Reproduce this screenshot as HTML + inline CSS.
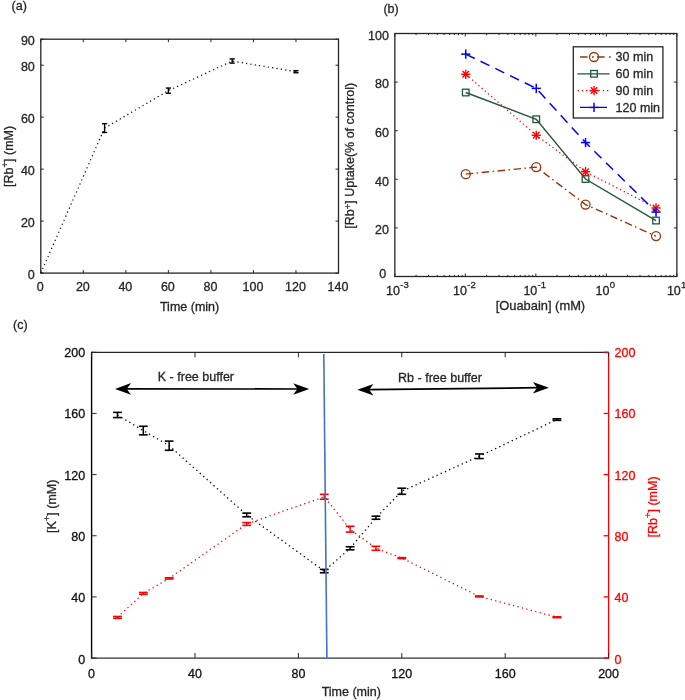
<!DOCTYPE html>
<html><head><meta charset="utf-8"><style>
html,body{margin:0;padding:0;background:#fff;}
svg{display:block;will-change:transform;}
text{font-family:"Liberation Sans", sans-serif;}
</style></head><body>
<svg width="685" height="700" viewBox="0 0 685 700">
<rect width="685" height="700" fill="#fff"/>
<rect x="40.8" y="39.2" width="297.7" height="233.90000000000003" fill="none" stroke="#262626" stroke-width="1.3"/>
<line x1="40.80" y1="273.10" x2="40.80" y2="270.10" stroke="#262626" stroke-width="1" />
<line x1="40.80" y1="39.20" x2="40.80" y2="42.20" stroke="#262626" stroke-width="1" />
<text x="40.30" y="291.40" text-anchor="middle" font-size="12.5" fill="#262626" stroke="#262626" stroke-width="0.3" >0</text>
<line x1="83.33" y1="273.10" x2="83.33" y2="270.10" stroke="#262626" stroke-width="1" />
<line x1="83.33" y1="39.20" x2="83.33" y2="42.20" stroke="#262626" stroke-width="1" />
<text x="82.83" y="291.40" text-anchor="middle" font-size="12.5" fill="#262626" stroke="#262626" stroke-width="0.3" >20</text>
<line x1="125.86" y1="273.10" x2="125.86" y2="270.10" stroke="#262626" stroke-width="1" />
<line x1="125.86" y1="39.20" x2="125.86" y2="42.20" stroke="#262626" stroke-width="1" />
<text x="125.36" y="291.40" text-anchor="middle" font-size="12.5" fill="#262626" stroke="#262626" stroke-width="0.3" >40</text>
<line x1="168.39" y1="273.10" x2="168.39" y2="270.10" stroke="#262626" stroke-width="1" />
<line x1="168.39" y1="39.20" x2="168.39" y2="42.20" stroke="#262626" stroke-width="1" />
<text x="167.89" y="291.40" text-anchor="middle" font-size="12.5" fill="#262626" stroke="#262626" stroke-width="0.3" >60</text>
<line x1="210.91" y1="273.10" x2="210.91" y2="270.10" stroke="#262626" stroke-width="1" />
<line x1="210.91" y1="39.20" x2="210.91" y2="42.20" stroke="#262626" stroke-width="1" />
<text x="210.41" y="291.40" text-anchor="middle" font-size="12.5" fill="#262626" stroke="#262626" stroke-width="0.3" >80</text>
<line x1="253.44" y1="273.10" x2="253.44" y2="270.10" stroke="#262626" stroke-width="1" />
<line x1="253.44" y1="39.20" x2="253.44" y2="42.20" stroke="#262626" stroke-width="1" />
<text x="252.94" y="291.40" text-anchor="middle" font-size="12.5" fill="#262626" stroke="#262626" stroke-width="0.3" >100</text>
<line x1="295.97" y1="273.10" x2="295.97" y2="270.10" stroke="#262626" stroke-width="1" />
<line x1="295.97" y1="39.20" x2="295.97" y2="42.20" stroke="#262626" stroke-width="1" />
<text x="295.47" y="291.40" text-anchor="middle" font-size="12.5" fill="#262626" stroke="#262626" stroke-width="0.3" >120</text>
<line x1="338.50" y1="273.10" x2="338.50" y2="270.10" stroke="#262626" stroke-width="1" />
<line x1="338.50" y1="39.20" x2="338.50" y2="42.20" stroke="#262626" stroke-width="1" />
<text x="338.00" y="291.40" text-anchor="middle" font-size="12.5" fill="#262626" stroke="#262626" stroke-width="0.3" >140</text>
<line x1="40.80" y1="273.10" x2="43.80" y2="273.10" stroke="#262626" stroke-width="1" />
<line x1="338.50" y1="273.10" x2="335.50" y2="273.10" stroke="#262626" stroke-width="1" />
<text x="34.80" y="278.70" text-anchor="end" font-size="12.5" fill="#262626" stroke="#262626" stroke-width="0.3" >0</text>
<line x1="40.80" y1="221.12" x2="43.80" y2="221.12" stroke="#262626" stroke-width="1" />
<line x1="338.50" y1="221.12" x2="335.50" y2="221.12" stroke="#262626" stroke-width="1" />
<text x="34.80" y="226.72" text-anchor="end" font-size="12.5" fill="#262626" stroke="#262626" stroke-width="0.3" >20</text>
<line x1="40.80" y1="169.14" x2="43.80" y2="169.14" stroke="#262626" stroke-width="1" />
<line x1="338.50" y1="169.14" x2="335.50" y2="169.14" stroke="#262626" stroke-width="1" />
<text x="34.80" y="174.74" text-anchor="end" font-size="12.5" fill="#262626" stroke="#262626" stroke-width="0.3" >40</text>
<line x1="40.80" y1="117.17" x2="43.80" y2="117.17" stroke="#262626" stroke-width="1" />
<line x1="338.50" y1="117.17" x2="335.50" y2="117.17" stroke="#262626" stroke-width="1" />
<text x="34.80" y="122.77" text-anchor="end" font-size="12.5" fill="#262626" stroke="#262626" stroke-width="0.3" >60</text>
<line x1="40.80" y1="65.19" x2="43.80" y2="65.19" stroke="#262626" stroke-width="1" />
<line x1="338.50" y1="65.19" x2="335.50" y2="65.19" stroke="#262626" stroke-width="1" />
<text x="34.80" y="70.79" text-anchor="end" font-size="12.5" fill="#262626" stroke="#262626" stroke-width="0.3" >80</text>
<line x1="40.80" y1="39.20" x2="43.80" y2="39.20" stroke="#262626" stroke-width="1" />
<line x1="338.50" y1="39.20" x2="335.50" y2="39.20" stroke="#262626" stroke-width="1" />
<text x="34.80" y="44.80" text-anchor="end" font-size="12.5" fill="#262626" stroke="#262626" stroke-width="0.3" >90</text>
<text x="189.60" y="310.80" text-anchor="middle" font-size="12.5" fill="#262626" stroke="#262626" stroke-width="0.3" >Time (min)</text>
<text transform="translate(13.40,156.40) rotate(-90)" text-anchor="middle" font-size="12.5" fill="#262626" stroke="#262626" stroke-width="0.3">[Rb<tspan dy="-5.5" font-size="9.5">+</tspan><tspan dy="5.5">] (mM)</tspan></text>
<text x="11.60" y="10.00" text-anchor="start" font-size="12.5" fill="#262626" stroke="#262626" stroke-width="0.3" >(a)</text>
<polyline points="40.80,273.10 104.59,128.08 168.39,90.66 232.18,61.03 295.97,71.69" fill="none" stroke="#000" stroke-width="1.2" stroke-dasharray="1.2 3.2"/>
<line x1="104.59" y1="123.66" x2="104.59" y2="132.50" stroke="#000" stroke-width="1.4" />
<line x1="101.99" y1="123.66" x2="107.19" y2="123.66" stroke="#000" stroke-width="1.4" />
<line x1="101.99" y1="132.50" x2="107.19" y2="132.50" stroke="#000" stroke-width="1.4" />
<line x1="168.39" y1="88.06" x2="168.39" y2="93.26" stroke="#000" stroke-width="1.4" />
<line x1="165.79" y1="88.06" x2="170.99" y2="88.06" stroke="#000" stroke-width="1.4" />
<line x1="165.79" y1="93.26" x2="170.99" y2="93.26" stroke="#000" stroke-width="1.4" />
<line x1="232.18" y1="58.95" x2="232.18" y2="63.11" stroke="#000" stroke-width="1.4" />
<line x1="229.58" y1="58.95" x2="234.78" y2="58.95" stroke="#000" stroke-width="1.4" />
<line x1="229.58" y1="63.11" x2="234.78" y2="63.11" stroke="#000" stroke-width="1.4" />
<line x1="295.97" y1="70.65" x2="295.97" y2="72.73" stroke="#000" stroke-width="1.4" />
<line x1="293.37" y1="70.65" x2="298.57" y2="70.65" stroke="#000" stroke-width="1.4" />
<line x1="293.37" y1="72.73" x2="298.57" y2="72.73" stroke="#000" stroke-width="1.4" />
<rect x="394.85" y="33.5" width="282.0" height="243.0" fill="none" stroke="#262626" stroke-width="1.3"/>
<line x1="394.85" y1="276.50" x2="394.85" y2="273.50" stroke="#262626" stroke-width="1" />
<line x1="394.85" y1="33.50" x2="394.85" y2="36.50" stroke="#262626" stroke-width="1" />
<text x="400.00" y="295.00" text-anchor="end" font-size="12.5" fill="#262626" stroke="#262626" stroke-width="0.3" >10</text>
<text x="400.30" y="287.90" text-anchor="start" font-size="9.5" fill="#262626" stroke="#262626" stroke-width="0.3" >-3</text>
<line x1="416.07" y1="276.50" x2="416.07" y2="274.90" stroke="#262626" stroke-width="1" />
<line x1="416.07" y1="33.50" x2="416.07" y2="35.10" stroke="#262626" stroke-width="1" />
<line x1="428.49" y1="276.50" x2="428.49" y2="274.90" stroke="#262626" stroke-width="1" />
<line x1="428.49" y1="33.50" x2="428.49" y2="35.10" stroke="#262626" stroke-width="1" />
<line x1="437.30" y1="276.50" x2="437.30" y2="274.90" stroke="#262626" stroke-width="1" />
<line x1="437.30" y1="33.50" x2="437.30" y2="35.10" stroke="#262626" stroke-width="1" />
<line x1="444.13" y1="276.50" x2="444.13" y2="274.90" stroke="#262626" stroke-width="1" />
<line x1="444.13" y1="33.50" x2="444.13" y2="35.10" stroke="#262626" stroke-width="1" />
<line x1="449.71" y1="276.50" x2="449.71" y2="274.90" stroke="#262626" stroke-width="1" />
<line x1="449.71" y1="33.50" x2="449.71" y2="35.10" stroke="#262626" stroke-width="1" />
<line x1="454.43" y1="276.50" x2="454.43" y2="274.90" stroke="#262626" stroke-width="1" />
<line x1="454.43" y1="33.50" x2="454.43" y2="35.10" stroke="#262626" stroke-width="1" />
<line x1="458.52" y1="276.50" x2="458.52" y2="274.90" stroke="#262626" stroke-width="1" />
<line x1="458.52" y1="33.50" x2="458.52" y2="35.10" stroke="#262626" stroke-width="1" />
<line x1="462.12" y1="276.50" x2="462.12" y2="274.90" stroke="#262626" stroke-width="1" />
<line x1="462.12" y1="33.50" x2="462.12" y2="35.10" stroke="#262626" stroke-width="1" />
<line x1="465.35" y1="276.50" x2="465.35" y2="273.50" stroke="#262626" stroke-width="1" />
<line x1="465.35" y1="33.50" x2="465.35" y2="36.50" stroke="#262626" stroke-width="1" />
<text x="467.00" y="295.00" text-anchor="end" font-size="12.5" fill="#262626" stroke="#262626" stroke-width="0.3" >10</text>
<text x="467.30" y="287.90" text-anchor="start" font-size="9.5" fill="#262626" stroke="#262626" stroke-width="0.3" >-2</text>
<line x1="486.57" y1="276.50" x2="486.57" y2="274.90" stroke="#262626" stroke-width="1" />
<line x1="486.57" y1="33.50" x2="486.57" y2="35.10" stroke="#262626" stroke-width="1" />
<line x1="498.99" y1="276.50" x2="498.99" y2="274.90" stroke="#262626" stroke-width="1" />
<line x1="498.99" y1="33.50" x2="498.99" y2="35.10" stroke="#262626" stroke-width="1" />
<line x1="507.80" y1="276.50" x2="507.80" y2="274.90" stroke="#262626" stroke-width="1" />
<line x1="507.80" y1="33.50" x2="507.80" y2="35.10" stroke="#262626" stroke-width="1" />
<line x1="514.63" y1="276.50" x2="514.63" y2="274.90" stroke="#262626" stroke-width="1" />
<line x1="514.63" y1="33.50" x2="514.63" y2="35.10" stroke="#262626" stroke-width="1" />
<line x1="520.21" y1="276.50" x2="520.21" y2="274.90" stroke="#262626" stroke-width="1" />
<line x1="520.21" y1="33.50" x2="520.21" y2="35.10" stroke="#262626" stroke-width="1" />
<line x1="524.93" y1="276.50" x2="524.93" y2="274.90" stroke="#262626" stroke-width="1" />
<line x1="524.93" y1="33.50" x2="524.93" y2="35.10" stroke="#262626" stroke-width="1" />
<line x1="529.02" y1="276.50" x2="529.02" y2="274.90" stroke="#262626" stroke-width="1" />
<line x1="529.02" y1="33.50" x2="529.02" y2="35.10" stroke="#262626" stroke-width="1" />
<line x1="532.62" y1="276.50" x2="532.62" y2="274.90" stroke="#262626" stroke-width="1" />
<line x1="532.62" y1="33.50" x2="532.62" y2="35.10" stroke="#262626" stroke-width="1" />
<line x1="535.85" y1="276.50" x2="535.85" y2="273.50" stroke="#262626" stroke-width="1" />
<line x1="535.85" y1="33.50" x2="535.85" y2="36.50" stroke="#262626" stroke-width="1" />
<text x="537.30" y="295.00" text-anchor="end" font-size="12.5" fill="#262626" stroke="#262626" stroke-width="0.3" >10</text>
<text x="537.60" y="287.90" text-anchor="start" font-size="9.5" fill="#262626" stroke="#262626" stroke-width="0.3" >-1</text>
<line x1="557.07" y1="276.50" x2="557.07" y2="274.90" stroke="#262626" stroke-width="1" />
<line x1="557.07" y1="33.50" x2="557.07" y2="35.10" stroke="#262626" stroke-width="1" />
<line x1="569.49" y1="276.50" x2="569.49" y2="274.90" stroke="#262626" stroke-width="1" />
<line x1="569.49" y1="33.50" x2="569.49" y2="35.10" stroke="#262626" stroke-width="1" />
<line x1="578.30" y1="276.50" x2="578.30" y2="274.90" stroke="#262626" stroke-width="1" />
<line x1="578.30" y1="33.50" x2="578.30" y2="35.10" stroke="#262626" stroke-width="1" />
<line x1="585.13" y1="276.50" x2="585.13" y2="274.90" stroke="#262626" stroke-width="1" />
<line x1="585.13" y1="33.50" x2="585.13" y2="35.10" stroke="#262626" stroke-width="1" />
<line x1="590.71" y1="276.50" x2="590.71" y2="274.90" stroke="#262626" stroke-width="1" />
<line x1="590.71" y1="33.50" x2="590.71" y2="35.10" stroke="#262626" stroke-width="1" />
<line x1="595.43" y1="276.50" x2="595.43" y2="274.90" stroke="#262626" stroke-width="1" />
<line x1="595.43" y1="33.50" x2="595.43" y2="35.10" stroke="#262626" stroke-width="1" />
<line x1="599.52" y1="276.50" x2="599.52" y2="274.90" stroke="#262626" stroke-width="1" />
<line x1="599.52" y1="33.50" x2="599.52" y2="35.10" stroke="#262626" stroke-width="1" />
<line x1="603.12" y1="276.50" x2="603.12" y2="274.90" stroke="#262626" stroke-width="1" />
<line x1="603.12" y1="33.50" x2="603.12" y2="35.10" stroke="#262626" stroke-width="1" />
<line x1="606.35" y1="276.50" x2="606.35" y2="273.50" stroke="#262626" stroke-width="1" />
<line x1="606.35" y1="33.50" x2="606.35" y2="36.50" stroke="#262626" stroke-width="1" />
<text x="609.40" y="295.00" text-anchor="end" font-size="12.5" fill="#262626" stroke="#262626" stroke-width="0.3" >10</text>
<text x="609.70" y="287.90" text-anchor="start" font-size="9.5" fill="#262626" stroke="#262626" stroke-width="0.3" >0</text>
<line x1="627.57" y1="276.50" x2="627.57" y2="274.90" stroke="#262626" stroke-width="1" />
<line x1="627.57" y1="33.50" x2="627.57" y2="35.10" stroke="#262626" stroke-width="1" />
<line x1="639.99" y1="276.50" x2="639.99" y2="274.90" stroke="#262626" stroke-width="1" />
<line x1="639.99" y1="33.50" x2="639.99" y2="35.10" stroke="#262626" stroke-width="1" />
<line x1="648.80" y1="276.50" x2="648.80" y2="274.90" stroke="#262626" stroke-width="1" />
<line x1="648.80" y1="33.50" x2="648.80" y2="35.10" stroke="#262626" stroke-width="1" />
<line x1="655.63" y1="276.50" x2="655.63" y2="274.90" stroke="#262626" stroke-width="1" />
<line x1="655.63" y1="33.50" x2="655.63" y2="35.10" stroke="#262626" stroke-width="1" />
<line x1="661.21" y1="276.50" x2="661.21" y2="274.90" stroke="#262626" stroke-width="1" />
<line x1="661.21" y1="33.50" x2="661.21" y2="35.10" stroke="#262626" stroke-width="1" />
<line x1="665.93" y1="276.50" x2="665.93" y2="274.90" stroke="#262626" stroke-width="1" />
<line x1="665.93" y1="33.50" x2="665.93" y2="35.10" stroke="#262626" stroke-width="1" />
<line x1="670.02" y1="276.50" x2="670.02" y2="274.90" stroke="#262626" stroke-width="1" />
<line x1="670.02" y1="33.50" x2="670.02" y2="35.10" stroke="#262626" stroke-width="1" />
<line x1="673.62" y1="276.50" x2="673.62" y2="274.90" stroke="#262626" stroke-width="1" />
<line x1="673.62" y1="33.50" x2="673.62" y2="35.10" stroke="#262626" stroke-width="1" />
<line x1="676.85" y1="276.50" x2="676.85" y2="273.50" stroke="#262626" stroke-width="1" />
<line x1="676.85" y1="33.50" x2="676.85" y2="36.50" stroke="#262626" stroke-width="1" />
<text x="680.80" y="295.00" text-anchor="end" font-size="12.5" fill="#262626" stroke="#262626" stroke-width="0.3" >10</text>
<text x="681.10" y="287.90" text-anchor="start" font-size="9.5" fill="#262626" stroke="#262626" stroke-width="0.3" >1</text>
<line x1="394.85" y1="276.50" x2="397.85" y2="276.50" stroke="#262626" stroke-width="1" />
<line x1="676.85" y1="276.50" x2="673.85" y2="276.50" stroke="#262626" stroke-width="1" />
<text x="386.20" y="278.00" text-anchor="end" font-size="12.5" fill="#262626" stroke="#262626" stroke-width="0.3" >0</text>
<line x1="394.85" y1="227.90" x2="397.85" y2="227.90" stroke="#262626" stroke-width="1" />
<line x1="676.85" y1="227.90" x2="673.85" y2="227.90" stroke="#262626" stroke-width="1" />
<text x="388.85" y="234.10" text-anchor="end" font-size="12.5" fill="#262626" stroke="#262626" stroke-width="0.3" >20</text>
<line x1="394.85" y1="179.30" x2="397.85" y2="179.30" stroke="#262626" stroke-width="1" />
<line x1="676.85" y1="179.30" x2="673.85" y2="179.30" stroke="#262626" stroke-width="1" />
<text x="388.85" y="185.50" text-anchor="end" font-size="12.5" fill="#262626" stroke="#262626" stroke-width="0.3" >40</text>
<line x1="394.85" y1="130.70" x2="397.85" y2="130.70" stroke="#262626" stroke-width="1" />
<line x1="676.85" y1="130.70" x2="673.85" y2="130.70" stroke="#262626" stroke-width="1" />
<text x="388.85" y="136.90" text-anchor="end" font-size="12.5" fill="#262626" stroke="#262626" stroke-width="0.3" >60</text>
<line x1="394.85" y1="82.10" x2="397.85" y2="82.10" stroke="#262626" stroke-width="1" />
<line x1="676.85" y1="82.10" x2="673.85" y2="82.10" stroke="#262626" stroke-width="1" />
<text x="388.85" y="88.30" text-anchor="end" font-size="12.5" fill="#262626" stroke="#262626" stroke-width="0.3" >80</text>
<line x1="394.85" y1="33.50" x2="397.85" y2="33.50" stroke="#262626" stroke-width="1" />
<line x1="676.85" y1="33.50" x2="673.85" y2="33.50" stroke="#262626" stroke-width="1" />
<text x="388.85" y="39.70" text-anchor="end" font-size="12.5" fill="#262626" stroke="#262626" stroke-width="0.3" >100</text>
<text x="540.40" y="310.00" text-anchor="middle" font-size="12.9" fill="#262626" stroke="#262626" stroke-width="0.3" >[Ouabain] (mM)</text>
<text transform="translate(353.90,155.70) rotate(-90)" text-anchor="middle" font-size="12.5" fill="#262626" stroke="#262626" stroke-width="0.3">[Rb<tspan dy="-2.6" font-size="9.5">+</tspan><tspan dy="2.6">] Uptake(% of control)</tspan></text>
<text x="383.40" y="13.00" text-anchor="start" font-size="12.5" fill="#262626" stroke="#262626" stroke-width="0.3" >(b)</text>
<polyline points="465.75,174.15 536.25,167.11 585.53,204.53 656.03,236.12" fill="none" stroke="#953509" stroke-width="1.4" stroke-dasharray="7.5 3.5 1.5 3.5"/>
<circle cx="465.75" cy="174.15" r="4.5" fill="none" stroke="#953509" stroke-width="1.3"/>
<circle cx="536.25" cy="167.11" r="4.5" fill="none" stroke="#953509" stroke-width="1.3"/>
<circle cx="585.53" cy="204.53" r="4.5" fill="none" stroke="#953509" stroke-width="1.3"/>
<circle cx="656.03" cy="236.12" r="4.5" fill="none" stroke="#953509" stroke-width="1.3"/>
<polyline points="465.75,92.51 536.25,119.24 585.53,179.01 656.03,220.57" fill="none" stroke="#22583a" stroke-width="1.45" />
<rect x="462.45" y="89.21" width="6.6" height="6.6" fill="none" stroke="#22583a" stroke-width="1.3"/>
<rect x="532.95" y="115.94" width="6.6" height="6.6" fill="none" stroke="#22583a" stroke-width="1.3"/>
<rect x="582.23" y="175.71" width="6.6" height="6.6" fill="none" stroke="#22583a" stroke-width="1.3"/>
<rect x="652.73" y="217.27" width="6.6" height="6.6" fill="none" stroke="#22583a" stroke-width="1.3"/>
<polyline points="465.75,74.28 536.25,135.27 585.53,171.72 656.03,207.93" fill="none" stroke="#ff0000" stroke-width="1.3" stroke-dasharray="1.3 2.9"/>
<line x1="461.15" y1="74.28" x2="470.35" y2="74.28" stroke="#ff0000" stroke-width="1.4" />
<line x1="462.50" y1="71.03" x2="469.00" y2="77.53" stroke="#ff0000" stroke-width="1.4" />
<line x1="465.75" y1="69.68" x2="465.75" y2="78.88" stroke="#ff0000" stroke-width="1.4" />
<line x1="469.00" y1="71.03" x2="462.50" y2="77.53" stroke="#ff0000" stroke-width="1.4" />
<line x1="531.65" y1="135.27" x2="540.85" y2="135.27" stroke="#ff0000" stroke-width="1.4" />
<line x1="533.00" y1="132.02" x2="539.50" y2="138.53" stroke="#ff0000" stroke-width="1.4" />
<line x1="536.25" y1="130.67" x2="536.25" y2="139.87" stroke="#ff0000" stroke-width="1.4" />
<line x1="539.50" y1="132.02" x2="533.00" y2="138.53" stroke="#ff0000" stroke-width="1.4" />
<line x1="580.93" y1="171.72" x2="590.13" y2="171.72" stroke="#ff0000" stroke-width="1.4" />
<line x1="582.27" y1="168.47" x2="588.78" y2="174.98" stroke="#ff0000" stroke-width="1.4" />
<line x1="585.53" y1="167.12" x2="585.53" y2="176.32" stroke="#ff0000" stroke-width="1.4" />
<line x1="588.78" y1="168.47" x2="582.27" y2="174.98" stroke="#ff0000" stroke-width="1.4" />
<line x1="651.43" y1="207.93" x2="660.63" y2="207.93" stroke="#ff0000" stroke-width="1.4" />
<line x1="652.77" y1="204.68" x2="659.28" y2="211.18" stroke="#ff0000" stroke-width="1.4" />
<line x1="656.03" y1="203.33" x2="656.03" y2="212.53" stroke="#ff0000" stroke-width="1.4" />
<line x1="659.28" y1="204.68" x2="652.77" y2="211.18" stroke="#ff0000" stroke-width="1.4" />
<polyline points="465.75,54.11 536.25,88.38 585.53,142.56 656.03,212.06" fill="none" stroke="#0000ff" stroke-width="1.5" stroke-dasharray="10 6.4"/>
<line x1="461.15" y1="54.11" x2="470.35" y2="54.11" stroke="#0000ff" stroke-width="1.5" />
<line x1="465.75" y1="49.51" x2="465.75" y2="58.71" stroke="#0000ff" stroke-width="1.5" />
<line x1="531.65" y1="88.38" x2="540.85" y2="88.38" stroke="#0000ff" stroke-width="1.5" />
<line x1="536.25" y1="83.78" x2="536.25" y2="92.98" stroke="#0000ff" stroke-width="1.5" />
<line x1="580.93" y1="142.56" x2="590.13" y2="142.56" stroke="#0000ff" stroke-width="1.5" />
<line x1="585.53" y1="137.96" x2="585.53" y2="147.16" stroke="#0000ff" stroke-width="1.5" />
<line x1="651.43" y1="212.06" x2="660.63" y2="212.06" stroke="#0000ff" stroke-width="1.5" />
<line x1="656.03" y1="207.46" x2="656.03" y2="216.66" stroke="#0000ff" stroke-width="1.5" />
<rect x="573.3" y="46.8" width="89.6" height="71.2" fill="#fff" stroke="#262626" stroke-width="1.3"/>
<line x1="580.00" y1="57.00" x2="611.00" y2="57.00" stroke="#953509" stroke-width="1.3" stroke-dasharray="7.6 4.4 1.7 3.3"/>
<circle cx="594.00" cy="57.00" r="4.5" fill="none" stroke="#953509" stroke-width="1.3"/>
<text x="615.60" y="61.40" text-anchor="start" font-size="12.5" fill="#262626" stroke="#262626" stroke-width="0.3" >30 min</text>
<line x1="577.30" y1="73.80" x2="609.60" y2="73.80" stroke="#22583a" stroke-width="1.3" />
<rect x="590.70" y="70.50" width="6.6" height="6.6" fill="none" stroke="#22583a" stroke-width="1.3"/>
<text x="615.60" y="78.20" text-anchor="start" font-size="12.5" fill="#262626" stroke="#262626" stroke-width="0.3" >60 min</text>
<line x1="577.60" y1="90.60" x2="610.00" y2="90.60" stroke="#ff0000" stroke-width="1.3" stroke-dasharray="1.3 2.9"/>
<line x1="589.40" y1="90.60" x2="598.60" y2="90.60" stroke="#ff0000" stroke-width="1.4" />
<line x1="590.75" y1="87.35" x2="597.25" y2="93.85" stroke="#ff0000" stroke-width="1.4" />
<line x1="594.00" y1="86.00" x2="594.00" y2="95.20" stroke="#ff0000" stroke-width="1.4" />
<line x1="597.25" y1="87.35" x2="590.75" y2="93.85" stroke="#ff0000" stroke-width="1.4" />
<text x="615.60" y="95.00" text-anchor="start" font-size="12.5" fill="#262626" stroke="#262626" stroke-width="0.3" >90 min</text>
<line x1="580.00" y1="107.40" x2="607.00" y2="107.40" stroke="#0000ff" stroke-width="1.3" stroke-dasharray="10 6 11"/>
<line x1="589.40" y1="107.40" x2="598.60" y2="107.40" stroke="#0000ff" stroke-width="1.5" />
<line x1="594.00" y1="102.80" x2="594.00" y2="112.00" stroke="#0000ff" stroke-width="1.5" />
<text x="615.60" y="111.80" text-anchor="start" font-size="12.5" fill="#262626" stroke="#262626" stroke-width="0.3" >120 min</text>
<line x1="91.60" y1="352.30" x2="608.60" y2="352.30" stroke="#262626" stroke-width="1.3" />
<line x1="91.60" y1="658.05" x2="608.60" y2="658.05" stroke="#333" stroke-width="1.3" />
<line x1="91.60" y1="351.65" x2="91.60" y2="658.70" stroke="#000" stroke-width="1.4" />
<line x1="608.60" y1="352.30" x2="608.60" y2="658.70" stroke="#ff0000" stroke-width="1.3" />
<line x1="91.60" y1="658.05" x2="91.60" y2="653.05" stroke="#262626" stroke-width="1" />
<line x1="91.60" y1="352.30" x2="91.60" y2="357.30" stroke="#262626" stroke-width="1" />
<text x="91.60" y="678.35" text-anchor="middle" font-size="12.5" fill="#111" stroke="#111" stroke-width="0.3" >0</text>
<line x1="91.60" y1="658.05" x2="96.60" y2="658.05" stroke="#262626" stroke-width="1" />
<line x1="608.60" y1="658.05" x2="603.60" y2="658.05" stroke="#ff0000" stroke-width="1.3" />
<text x="85.20" y="663.75" text-anchor="end" font-size="12.5" fill="#111" stroke="#111" stroke-width="0.3" >0</text>
<text x="614.60" y="663.85" text-anchor="start" font-size="12.5" fill="#ff0000" stroke="#ff0000" stroke-width="0.3" >0</text>
<line x1="195.00" y1="658.05" x2="195.00" y2="653.05" stroke="#262626" stroke-width="1" />
<line x1="195.00" y1="352.30" x2="195.00" y2="357.30" stroke="#262626" stroke-width="1" />
<text x="195.00" y="678.35" text-anchor="middle" font-size="12.5" fill="#111" stroke="#111" stroke-width="0.3" >40</text>
<line x1="91.60" y1="596.90" x2="96.60" y2="596.90" stroke="#262626" stroke-width="1" />
<line x1="608.60" y1="596.90" x2="603.60" y2="596.90" stroke="#ff0000" stroke-width="1.3" />
<text x="85.20" y="602.38" text-anchor="end" font-size="12.5" fill="#111" stroke="#111" stroke-width="0.3" >40</text>
<text x="614.60" y="602.48" text-anchor="start" font-size="12.5" fill="#ff0000" stroke="#ff0000" stroke-width="0.3" >40</text>
<line x1="298.40" y1="658.05" x2="298.40" y2="653.05" stroke="#262626" stroke-width="1" />
<line x1="298.40" y1="352.30" x2="298.40" y2="357.30" stroke="#262626" stroke-width="1" />
<text x="298.40" y="678.35" text-anchor="middle" font-size="12.5" fill="#111" stroke="#111" stroke-width="0.3" >80</text>
<line x1="91.60" y1="535.75" x2="96.60" y2="535.75" stroke="#262626" stroke-width="1" />
<line x1="608.60" y1="535.75" x2="603.60" y2="535.75" stroke="#ff0000" stroke-width="1.3" />
<text x="85.20" y="541.01" text-anchor="end" font-size="12.5" fill="#111" stroke="#111" stroke-width="0.3" >80</text>
<text x="614.60" y="541.11" text-anchor="start" font-size="12.5" fill="#ff0000" stroke="#ff0000" stroke-width="0.3" >80</text>
<line x1="401.80" y1="658.05" x2="401.80" y2="653.05" stroke="#262626" stroke-width="1" />
<line x1="401.80" y1="352.30" x2="401.80" y2="357.30" stroke="#262626" stroke-width="1" />
<text x="401.80" y="678.35" text-anchor="middle" font-size="12.5" fill="#111" stroke="#111" stroke-width="0.3" >120</text>
<line x1="91.60" y1="474.60" x2="96.60" y2="474.60" stroke="#262626" stroke-width="1" />
<line x1="608.60" y1="474.60" x2="603.60" y2="474.60" stroke="#ff0000" stroke-width="1.3" />
<text x="85.20" y="479.64" text-anchor="end" font-size="12.5" fill="#111" stroke="#111" stroke-width="0.3" >120</text>
<text x="614.60" y="479.74" text-anchor="start" font-size="12.5" fill="#ff0000" stroke="#ff0000" stroke-width="0.3" >120</text>
<line x1="505.20" y1="658.05" x2="505.20" y2="653.05" stroke="#262626" stroke-width="1" />
<line x1="505.20" y1="352.30" x2="505.20" y2="357.30" stroke="#262626" stroke-width="1" />
<text x="505.20" y="678.35" text-anchor="middle" font-size="12.5" fill="#111" stroke="#111" stroke-width="0.3" >160</text>
<line x1="91.60" y1="413.45" x2="96.60" y2="413.45" stroke="#262626" stroke-width="1" />
<line x1="608.60" y1="413.45" x2="603.60" y2="413.45" stroke="#ff0000" stroke-width="1.3" />
<text x="85.20" y="418.27" text-anchor="end" font-size="12.5" fill="#111" stroke="#111" stroke-width="0.3" >160</text>
<text x="614.60" y="418.37" text-anchor="start" font-size="12.5" fill="#ff0000" stroke="#ff0000" stroke-width="0.3" >160</text>
<line x1="608.60" y1="658.05" x2="608.60" y2="653.05" stroke="#262626" stroke-width="1" />
<line x1="608.60" y1="352.30" x2="608.60" y2="357.30" stroke="#262626" stroke-width="1" />
<text x="608.60" y="678.35" text-anchor="middle" font-size="12.5" fill="#111" stroke="#111" stroke-width="0.3" >200</text>
<line x1="91.60" y1="352.30" x2="96.60" y2="352.30" stroke="#262626" stroke-width="1" />
<line x1="608.60" y1="352.30" x2="603.60" y2="352.30" stroke="#ff0000" stroke-width="1.3" />
<text x="85.20" y="356.90" text-anchor="end" font-size="12.5" fill="#111" stroke="#111" stroke-width="0.3" >200</text>
<text x="614.60" y="357.00" text-anchor="start" font-size="12.5" fill="#ff0000" stroke="#ff0000" stroke-width="0.3" >200</text>
<text x="351.30" y="695.80" text-anchor="middle" font-size="12.5" fill="#262626" stroke="#262626" stroke-width="0.3" >Time (min)</text>
<text transform="translate(55.60,506.30) rotate(-90)" text-anchor="middle" font-size="12.5" fill="#262626" stroke="#262626" stroke-width="0.3">[K<tspan dy="-5.5" font-size="9.5">+</tspan><tspan dy="5.5">] (mM)</tspan></text>
<text transform="translate(656.90,507.00) rotate(-90)" text-anchor="middle" font-size="12.5" fill="#ff0000" stroke="#ff0000" stroke-width="0.3">[Rb<tspan dy="-5.5" font-size="9.5">+</tspan><tspan dy="5.5">] (mM)</tspan></text>
<text x="13.10" y="328.90" text-anchor="start" font-size="12.5" fill="#262626" stroke="#262626" stroke-width="0.3" >(c)</text>
<polyline points="117.45,414.98 143.30,430.57 169.15,445.71 246.70,514.96 324.25,571.06 350.10,548.29 375.95,517.71 401.80,491.26 479.35,456.25 556.90,419.56" fill="none" stroke="#000" stroke-width="1.3" stroke-dasharray="1.3 3.3"/>
<polyline points="117.45,617.39 143.30,593.38 169.15,578.40 246.70,523.98 324.25,496.77 350.10,529.18 375.95,548.29 401.80,558.07 479.35,596.44 556.90,617.23" fill="none" stroke="#ff0000" stroke-width="1.3" stroke-dasharray="1.3 3.3"/>
<line x1="117.45" y1="412.38" x2="117.45" y2="417.58" stroke="#000" stroke-width="1.5" />
<line x1="113.05" y1="412.38" x2="121.85" y2="412.38" stroke="#000" stroke-width="1.6" />
<line x1="113.05" y1="417.58" x2="121.85" y2="417.58" stroke="#000" stroke-width="1.6" />
<line x1="143.30" y1="426.29" x2="143.30" y2="434.85" stroke="#000" stroke-width="1.5" />
<line x1="138.90" y1="426.29" x2="147.70" y2="426.29" stroke="#000" stroke-width="1.6" />
<line x1="138.90" y1="434.85" x2="147.70" y2="434.85" stroke="#000" stroke-width="1.6" />
<line x1="169.15" y1="441.12" x2="169.15" y2="450.29" stroke="#000" stroke-width="1.5" />
<line x1="164.75" y1="441.12" x2="173.55" y2="441.12" stroke="#000" stroke-width="1.6" />
<line x1="164.75" y1="450.29" x2="173.55" y2="450.29" stroke="#000" stroke-width="1.6" />
<line x1="246.70" y1="513.12" x2="246.70" y2="516.79" stroke="#000" stroke-width="1.5" />
<line x1="242.30" y1="513.12" x2="251.10" y2="513.12" stroke="#000" stroke-width="1.6" />
<line x1="242.30" y1="516.79" x2="251.10" y2="516.79" stroke="#000" stroke-width="1.6" />
<line x1="324.25" y1="569.38" x2="324.25" y2="572.75" stroke="#000" stroke-width="1.5" />
<line x1="319.85" y1="569.38" x2="328.65" y2="569.38" stroke="#000" stroke-width="1.6" />
<line x1="319.85" y1="572.75" x2="328.65" y2="572.75" stroke="#000" stroke-width="1.6" />
<line x1="350.10" y1="546.76" x2="350.10" y2="549.81" stroke="#000" stroke-width="1.5" />
<line x1="345.70" y1="546.76" x2="354.50" y2="546.76" stroke="#000" stroke-width="1.6" />
<line x1="345.70" y1="549.81" x2="354.50" y2="549.81" stroke="#000" stroke-width="1.6" />
<line x1="375.95" y1="516.18" x2="375.95" y2="519.24" stroke="#000" stroke-width="1.5" />
<line x1="371.55" y1="516.18" x2="380.35" y2="516.18" stroke="#000" stroke-width="1.6" />
<line x1="371.55" y1="519.24" x2="380.35" y2="519.24" stroke="#000" stroke-width="1.6" />
<line x1="401.80" y1="488.21" x2="401.80" y2="494.32" stroke="#000" stroke-width="1.5" />
<line x1="397.40" y1="488.21" x2="406.20" y2="488.21" stroke="#000" stroke-width="1.6" />
<line x1="397.40" y1="494.32" x2="406.20" y2="494.32" stroke="#000" stroke-width="1.6" />
<line x1="479.35" y1="453.96" x2="479.35" y2="458.55" stroke="#000" stroke-width="1.5" />
<line x1="474.95" y1="453.96" x2="483.75" y2="453.96" stroke="#000" stroke-width="1.6" />
<line x1="474.95" y1="458.55" x2="483.75" y2="458.55" stroke="#000" stroke-width="1.6" />
<line x1="556.90" y1="418.80" x2="556.90" y2="420.33" stroke="#000" stroke-width="1.5" />
<line x1="552.50" y1="418.80" x2="561.30" y2="418.80" stroke="#000" stroke-width="1.6" />
<line x1="552.50" y1="420.33" x2="561.30" y2="420.33" stroke="#000" stroke-width="1.6" />
<line x1="117.45" y1="616.47" x2="117.45" y2="618.30" stroke="#ff0000" stroke-width="1.5" />
<line x1="113.05" y1="616.47" x2="121.85" y2="616.47" stroke="#ff0000" stroke-width="1.6" />
<line x1="113.05" y1="618.30" x2="121.85" y2="618.30" stroke="#ff0000" stroke-width="1.6" />
<line x1="143.30" y1="592.47" x2="143.30" y2="594.30" stroke="#ff0000" stroke-width="1.5" />
<line x1="138.90" y1="592.47" x2="147.70" y2="592.47" stroke="#ff0000" stroke-width="1.6" />
<line x1="138.90" y1="594.30" x2="147.70" y2="594.30" stroke="#ff0000" stroke-width="1.6" />
<line x1="169.15" y1="577.79" x2="169.15" y2="579.01" stroke="#ff0000" stroke-width="1.5" />
<line x1="164.75" y1="577.79" x2="173.55" y2="577.79" stroke="#ff0000" stroke-width="1.6" />
<line x1="164.75" y1="579.01" x2="173.55" y2="579.01" stroke="#ff0000" stroke-width="1.6" />
<line x1="246.70" y1="522.60" x2="246.70" y2="525.35" stroke="#ff0000" stroke-width="1.5" />
<line x1="242.30" y1="522.60" x2="251.10" y2="522.60" stroke="#ff0000" stroke-width="1.6" />
<line x1="242.30" y1="525.35" x2="251.10" y2="525.35" stroke="#ff0000" stroke-width="1.6" />
<line x1="324.25" y1="494.32" x2="324.25" y2="499.21" stroke="#ff0000" stroke-width="1.5" />
<line x1="319.85" y1="494.32" x2="328.65" y2="494.32" stroke="#ff0000" stroke-width="1.6" />
<line x1="319.85" y1="499.21" x2="328.65" y2="499.21" stroke="#ff0000" stroke-width="1.6" />
<line x1="350.10" y1="526.27" x2="350.10" y2="532.08" stroke="#ff0000" stroke-width="1.5" />
<line x1="345.70" y1="526.27" x2="354.50" y2="526.27" stroke="#ff0000" stroke-width="1.6" />
<line x1="345.70" y1="532.08" x2="354.50" y2="532.08" stroke="#ff0000" stroke-width="1.6" />
<line x1="375.95" y1="546.30" x2="375.95" y2="550.27" stroke="#ff0000" stroke-width="1.5" />
<line x1="371.55" y1="546.30" x2="380.35" y2="546.30" stroke="#ff0000" stroke-width="1.6" />
<line x1="371.55" y1="550.27" x2="380.35" y2="550.27" stroke="#ff0000" stroke-width="1.6" />
<line x1="401.80" y1="557.61" x2="401.80" y2="558.53" stroke="#ff0000" stroke-width="1.5" />
<line x1="397.40" y1="557.61" x2="406.20" y2="557.61" stroke="#ff0000" stroke-width="1.6" />
<line x1="397.40" y1="558.53" x2="406.20" y2="558.53" stroke="#ff0000" stroke-width="1.6" />
<line x1="479.35" y1="595.98" x2="479.35" y2="596.90" stroke="#ff0000" stroke-width="1.5" />
<line x1="474.95" y1="595.98" x2="483.75" y2="595.98" stroke="#ff0000" stroke-width="1.6" />
<line x1="474.95" y1="596.90" x2="483.75" y2="596.90" stroke="#ff0000" stroke-width="1.6" />
<line x1="556.90" y1="616.77" x2="556.90" y2="617.69" stroke="#ff0000" stroke-width="1.5" />
<line x1="552.50" y1="616.77" x2="561.30" y2="616.77" stroke="#ff0000" stroke-width="1.6" />
<line x1="552.50" y1="617.69" x2="561.30" y2="617.69" stroke="#ff0000" stroke-width="1.6" />
<line x1="323.80" y1="354.00" x2="326.90" y2="659.00" stroke="#4472c4" stroke-width="1.6" />
<line x1="125.00" y1="388.90" x2="299.20" y2="389.00" stroke="#000" stroke-width="1.7" />
<path d="M115.00,388.90 L131.00,383.10 L126.80,388.90 L131.00,394.70 Z" fill="#000"/>
<path d="M309.20,389.00 L293.20,383.20 L297.40,389.00 L293.20,394.80 Z" fill="#000"/>
<line x1="367.40" y1="389.70" x2="538.90" y2="387.70" stroke="#000" stroke-width="1.7" />
<path d="M357.40,389.70 L373.40,383.90 L369.20,389.70 L373.40,395.50 Z" fill="#000"/>
<path d="M548.90,387.70 L532.90,381.90 L537.10,387.70 L532.90,393.50 Z" fill="#000"/>
<text x="157.80" y="380.90" text-anchor="start" font-size="12.5" fill="#262626" stroke="#262626" stroke-width="0.3" >K - free buffer</text>
<text x="398.10" y="381.80" text-anchor="start" font-size="12.5" fill="#262626" stroke="#262626" stroke-width="0.3" >Rb - free buffer</text>
</svg></body></html>
